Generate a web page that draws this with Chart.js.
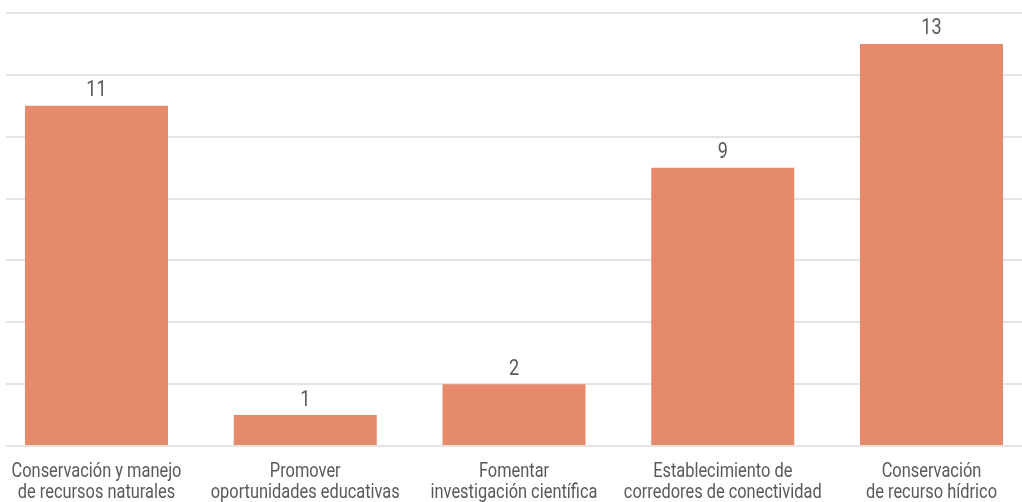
<!DOCTYPE html>
<html>
<head>
<meta charset="utf-8">
<script src="https://cdn.jsdelivr.net/npm/chart.js@4/dist/chart.umd.min.js"></script>
<style>
  html, body { margin: 0; padding: 0; background: #ffffff; }
  #wrap { position: relative; width: 1022px; height: 502px; }
</style>
</head>
<body>
<div id="wrap"><canvas id="c" width="1022" height="502"></canvas></div>
<script>
const categories = [
  ["Conservación y manejo", "de recursos naturales"],
  ["Promover", "oportunidades educativas"],
  ["Fomentar", "investigación científica"],
  ["Establecimiento de", "corredores de conectividad"],
  ["Conservación", "de recurso hídrico"]
];
const values = [11, 1, 2, 9, 13];
const yTicks = [0, 2, 4, 6, 8, 10, 12, 14];

const FONT = "Roboto, 'Noto Sans', sans-serif";
const TEXT = '#595959';
const SX = 0.82; // horizontal condensing of the text

function drawCondensed(ctx, text, x, y) {
  ctx.save();
  ctx.translate(x, y);
  ctx.scale(SX, 1);
  ctx.fillText(text, 0, 0);
  ctx.restore();
}

const textPlugin = {
  id: 'textPlugin',
  afterDatasetsDraw(chart) {
    const ctx = chart.ctx;
    const meta = chart.getDatasetMeta(0);
    const xs = chart.scales.x;
    const bottom = chart.chartArea.bottom;
    ctx.save();
    ctx.fillStyle = TEXT;
    ctx.textAlign = 'center';
    ctx.textBaseline = 'alphabetic';
    ctx.font = '22px ' + FONT;
    meta.data.forEach((el, i) => {
      drawCondensed(ctx, String(values[i]), el.x, el.y - 9.5);
    });
    ctx.font = '20px ' + FONT;
    categories.forEach((lines, i) => {
      const x = xs.getPixelForValue(i);
      lines.forEach((line, k) => {
        drawCondensed(ctx, line, x, bottom + 31 + k * 21);
      });
    });
    ctx.restore();
  }
};

new Chart(document.getElementById('c'), {
  type: 'bar',
  data: {
    datasets: [{
      data: values.map((v, i) => ({ x: i, y: v })),
      backgroundColor: '#E58A6B',
      borderWidth: 0,
      barPercentage: 0.685,
      categoryPercentage: 1
    }]
  },
  options: {
    responsive: false,
    animation: false,
    devicePixelRatio: 1,
    layout: { padding: { left: 6, right: 0, top: 13, bottom: 0 } },
    plugins: { legend: { display: false }, tooltip: { enabled: false } },
    scales: {
      x: {
        type: 'linear',
        offset: false,
        min: -0.4335,
        max: 4.4335,
        grid: { display: false },
        border: { display: false },
        afterBuildTicks(scale) { scale.ticks = categories.map((_, i) => ({ value: i })); },
        afterFit(scale) { scale.height = 56; },
        ticks: { display: false }
      },
      y: {
        min: 0,
        max: 14,
        afterBuildTicks(scale) { scale.ticks = yTicks.map(v => ({ value: v })); },
        afterFit(scale) { scale.width = 0; },
        ticks: { display: false },
        border: { display: false },
        grid: { color: '#e4e4e4', lineWidth: 2, drawTicks: false }
      }
    }
  },
  plugins: [textPlugin]
});
</script>
</body>
</html>
